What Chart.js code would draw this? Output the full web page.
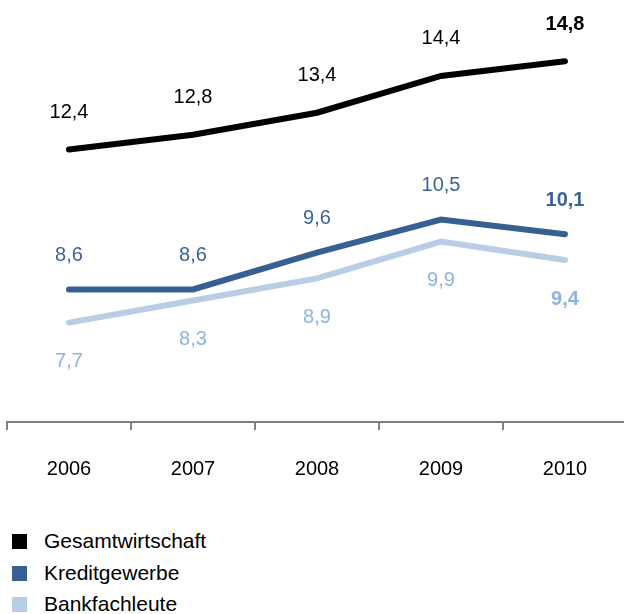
<!DOCTYPE html>
<html lang="de">
<head>
    <meta charset="UTF-8">
    <title>Gesamtwirtschaft, Kreditgewerbe, Bankfachleute</title>
    <script src="https://cdn.jsdelivr.net/npm/chart.js"></script>
    <style>
        html, body { margin: 0; padding: 0; background: #fff; overflow: hidden; }
        body { width: 624px; height: 614px; font-family: "Liberation Sans", Arial, sans-serif; }
        #wrap { position: absolute; left: 0; top: 0; width: 632px; height: 519px; }
        #legend { position: absolute; left: 12px; top: 529px; }
        .item { height: 31.5px; display: flex; align-items: flex-start; font-size: 21px; color: #000; }
        .box { width: 15px; height: 15px; margin-top: 5px; margin-right: 17px; }
    </style>
</head>
<body>
    <div id="wrap"><canvas id="chart"></canvas></div>
    <div id="legend"></div>
    <script>
        // Daten
        const years = ['2006', '2007', '2008', '2009', '2010'];
        const gesamt = [12.4, 12.8, 13.4, 14.4, 14.8];
        const kredit = [8.6, 8.6, 9.6, 10.5, 10.1];
        const bank = [7.7, 8.3, 8.9, 9.9, 9.4];

        const seriesNames = ['Gesamtwirtschaft', 'Kreditgewerbe', 'Bankfachleute'];
        const lineColors = ['#000000', '#366092', '#B9CDE5'];
        const labelColors = ['#000000', '#3A6497', '#8DB3E2'];
        const labelOffsets = [-37, -34, 39];

        // Werte als Text ueber/unter den Punkten
        const valueLabels = {
            id: 'valueLabels',
            afterDatasetsDraw(chart) {
                const ctx = chart.ctx;
                ctx.save();
                ctx.textAlign = 'center';
                ctx.textBaseline = 'middle';
                chart.data.datasets.forEach((ds, i) => {
                    const meta = chart.getDatasetMeta(i);
                    meta.data.forEach((pt, j) => {
                        const last = j === ds.data.length - 1;
                        ctx.font = (last ? 'bold ' : '') + '20px "Liberation Sans", Arial, sans-serif';
                        ctx.fillStyle = labelColors[i];
                        ctx.fillText(ds.data[j].toFixed(1).replace('.', ','), pt.x, pt.y + labelOffsets[i]);
                    });
                });
                ctx.restore();
            }
        };

        const datasets = [gesamt, kredit, bank].map((d, i) => ({
            label: seriesNames[i],
            data: d,
            borderColor: lineColors[i],
            borderWidth: 6,
            borderCapStyle: 'round',
            borderJoinStyle: 'miter',
            pointRadius: 0,
            tension: 0
        }));

        new Chart(document.getElementById('chart'), {
            type: 'line',
            data: { labels: years, datasets: datasets },
            options: {
                responsive: true,
                maintainAspectRatio: false,
                animation: false,
                layout: { padding: { left: 7, right: 5, top: 17, bottom: 11 } },
                plugins: { legend: { display: false }, tooltip: { enabled: false } },
                scales: {
                    x: {
                        offset: true,
                        grid: { offset: true, drawOnChartArea: false, tickLength: 8, color: '#808080', lineWidth: 2 },
                        border: { display: true, color: '#808080', width: 2 },
                        ticks: { color: '#000', padding: 27, font: { size: 20, family: '"Liberation Sans", Arial, sans-serif' } }
                    },
                    y: { display: false, min: 5, max: 16 }
                }
            },
            plugins: [valueLabels]
        });

        // Legende
        const legend = document.getElementById('legend');
        seriesNames.forEach((name, i) => {
            const row = document.createElement('div');
            row.className = 'item';
            row.innerHTML = '<div class="box" style="background:' + lineColors[i] + '"></div><span>' + name + '</span>';
            legend.appendChild(row);
        });
    </script>
</body>
</html>
